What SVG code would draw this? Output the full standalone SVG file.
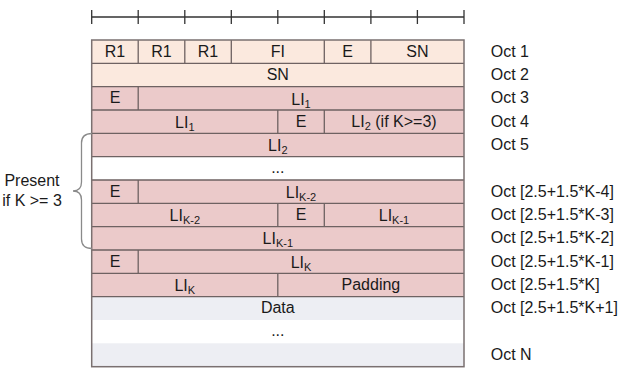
<svg xmlns="http://www.w3.org/2000/svg" width="627" height="385" viewBox="0 0 627 385">
<style>
text{font-family:"Liberation Sans",Arial,sans-serif;font-size:16px;fill:#1a1a1a}
.c{text-anchor:middle}
.sub{font-size:11px}
.peach{fill:#fbe9de}
.pink{fill:#ebcaca}
.data{fill:#edeef3}
.white{fill:#ffffff}
.div{stroke:#6e6262;stroke-width:1.3;fill:none}
.tick{stroke:#333;stroke-width:1.3;fill:none}
.brace{stroke:#8a8a8a;stroke-width:1.3;fill:none}
</style>
<g id="ruler">
<path class="tick" d="M91.7 17H464M91.7 10V24M138.2 10V24M184.8 10V24M231.3 10V24M277.8 10V24M324.3 10V24M370.9 10V24M417.4 10V24M464 10V24"/>
</g>
<g id="oct1">
<rect class="peach" x="91.7" y="40" width="372.3" height="23.3"/>
<path class="div" d="M138.2 40V63.3M184.8 40V63.3M231.3 40V63.3M324.3 40V63.3M370.9 40V63.3"/>
<text class="c" x="115" y="56.5">R1</text>
<text class="c" x="161.5" y="56.5">R1</text>
<text class="c" x="208" y="56.5">R1</text>
<text class="c" x="277.8" y="56.5">FI</text>
<text class="c" x="347.6" y="56.5">E</text>
<text class="c" x="417.4" y="56.5">SN</text>
</g>
<g id="oct2">
<rect class="peach" x="91.7" y="63.3" width="372.3" height="23.3"/>
<text class="c" x="277.8" y="79.8">SN</text>
</g>
<g id="oct3">
<rect class="pink" x="91.7" y="86.7" width="372.3" height="23.3"/>
<path class="div" d="M138.2 86.7V110"/>
<text class="c" x="115" y="103.2">E</text>
<text class="c" x="301" y="104.5">LI<tspan class="sub" dy="3">1</tspan></text>
</g>
<g id="oct4">
<rect class="pink" x="91.7" y="110" width="372.3" height="23.3"/>
<path class="div" d="M277.8 110V133.3M324.3 110V133.3"/>
<text class="c" x="184.8" y="127.5">LI<tspan class="sub" dy="3">1</tspan></text>
<text class="c" x="301" y="126.5">E</text>
<text class="c" x="394" y="126.5">LI<tspan class="sub" dy="3">2</tspan><tspan dy="-3"> (if K&gt;=3)</tspan></text>
</g>
<g id="oct5">
<rect class="pink" x="91.7" y="133.3" width="372.3" height="23.3"/>
<text class="c" x="277.8" y="151">LI<tspan class="sub" dy="3">2</tspan></text>
</g>
<g id="gap1">
<rect class="white" x="91.7" y="156.7" width="372.3" height="23.3"/>
<text class="c" x="277.8" y="172.5">...</text>
</g>
<g id="octK4">
<rect class="pink" x="91.7" y="180" width="372.3" height="23.3"/>
<path class="div" d="M138.2 180V203.3"/>
<text class="c" x="115" y="196.5">E</text>
<text class="c" x="301" y="197.8">LI<tspan class="sub" dy="3">K-2</tspan></text>
</g>
<g id="octK3">
<rect class="pink" x="91.7" y="203.3" width="372.3" height="23.3"/>
<path class="div" d="M277.8 203.3V226.7M324.3 203.3V226.7"/>
<text class="c" x="184.8" y="221">LI<tspan class="sub" dy="3">K-2</tspan></text>
<text class="c" x="301" y="219.8">E</text>
<text class="c" x="394" y="221">LI<tspan class="sub" dy="3">K-1</tspan></text>
</g>
<g id="octK2">
<rect class="pink" x="91.7" y="226.7" width="372.3" height="23.3"/>
<text class="c" x="277.8" y="244.3">LI<tspan class="sub" dy="3">K-1</tspan></text>
</g>
<g id="octK1">
<rect class="pink" x="91.7" y="250" width="372.3" height="23.3"/>
<path class="div" d="M138.2 250V273.3"/>
<text class="c" x="115" y="266.5">E</text>
<text class="c" x="301" y="267.8">LI<tspan class="sub" dy="3">K</tspan></text>
</g>
<g id="octK">
<rect class="pink" x="91.7" y="273.3" width="372.3" height="23.3"/>
<path class="div" d="M277.8 273.3V296.7"/>
<text class="c" x="184.8" y="290.5">LI<tspan class="sub" dy="3">K</tspan></text>
<text class="c" x="370.9" y="289.8">Padding</text>
</g>
<g id="data">
<rect class="data" x="91.7" y="296.7" width="372.3" height="23.3"/>
<text class="c" x="277.8" y="313">Data</text>
</g>
<g id="gap2">
<rect class="white" x="91.7" y="320" width="372.3" height="23.3"/>
<text class="c" x="277.8" y="336">...</text>
</g>
<g id="octN">
<rect class="data" x="91.7" y="343.3" width="372.3" height="23.3"/>
</g>
<g id="borders">
<path class="div" d="M91.7 63.3H464M91.7 86.7H464M91.7 110H464M91.7 133.3H464M91.7 156.7H464M91.7 180H464M91.7 203.3H464M91.7 226.7H464M91.7 250H464M91.7 273.3H464M91.7 296.7H464"/>
<rect x="91.7" y="40" width="372.3" height="326.7" fill="none" stroke="#7a7070" stroke-width="1.5"/>
</g>
<g id="labels">
<text x="490.7" y="56.5">Oct 1</text>
<text x="490.7" y="79.8">Oct 2</text>
<text x="490.7" y="103.2">Oct 3</text>
<text x="490.7" y="126.5">Oct 4</text>
<text x="490.7" y="149.8">Oct 5</text>
<text x="490.7" y="196.5">Oct [2.5+1.5*K-4]</text>
<text x="490.7" y="219.8">Oct [2.5+1.5*K-3]</text>
<text x="490.7" y="243.2">Oct [2.5+1.5*K-2]</text>
<text x="490.7" y="266.5">Oct [2.5+1.5*K-1]</text>
<text x="490.7" y="289.8">Oct [2.5+1.5*K]</text>
<text x="490.7" y="313.2">Oct [2.5+1.5*K+1]</text>
<text x="490.7" y="359.8">Oct N</text>
</g>
<g id="connectors">
<path class="brace" d="M92 133.5Q81.5 133.5 81.5 143L81.5 182Q81.5 191 73 191Q81.5 191 81.5 200L81.5 239Q81.5 248.5 92 248.5"/>
</g>
<g id="present">
<text class="c" x="32" y="186">Present</text>
<text class="c" x="32" y="205.5">if K &gt;= 3</text>
</g>
</svg>
